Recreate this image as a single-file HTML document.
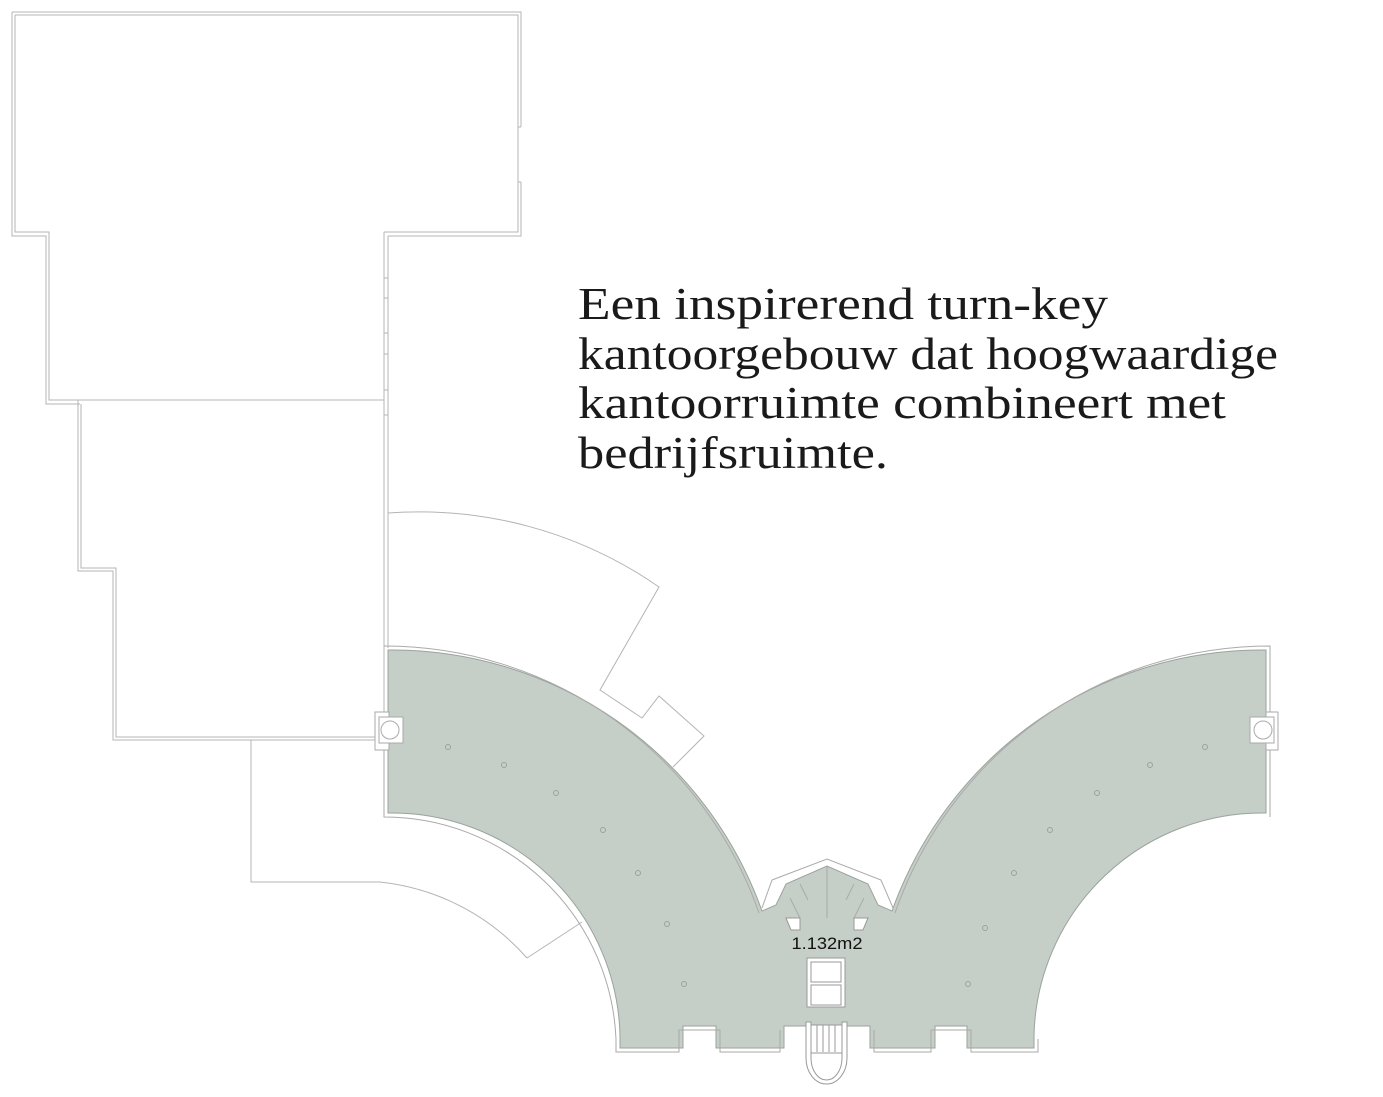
<!DOCTYPE html>
<html><head><meta charset="utf-8"><style>
html,body{margin:0;padding:0;background:#fff;}
svg{display:block;}
</style></head><body>
<svg width="1383" height="1097" viewBox="0 0 1383 1097" xmlns="http://www.w3.org/2000/svg">
<g fill="none" stroke="#b4b4b4" stroke-width="1">
  <path d="M12,12 H521 V127 M521,182 V236 H388 M12,12 V236 H46 V404 H80"/>
  <path d="M15,15 H518 V232 H384 M15,15 V232 H49 V400 H384"/>
  <path d="M518,127 H521 M518,182 H521" />
  <path d="M384,232 V740 M388,236 V648"/>
  <path d="M384,278 H388 M384,298 H388 M384,333 H388 M384,354 H388 M384,390 H388 M384,415 H388"/>
  <path d="M78,400 V571 H113 V740 H384 M81,404 V568 H116 V737 H384"/>
  <path d="M251,740 V882 H380 A228,228 0 0 1 527,958 L582,922"/>
  <path d="M388,513 A420,420 0 0 1 659,587 L600,690 L642,718 L659,696 L704,736 L673,767"/>
</g>
<path fill="#c5cfc7" stroke="#9aa39c" stroke-width="1"
 d="M388,650 A393,393 0 0 1 762,911 L776,905 L786,884 L827,866 L868,884 L878,905 L892,911
    A393,393 0 0 1 1266,650 L1266,813 A228,228 0 0 0 1034,1035 L1034,1048 L967,1048 L967,1026 L935,1026 L935,1048 L870,1048 L870,1026 L784,1026 L784,1048 L716,1048 L716,1026 L683,1026 L683,1048 L620,1048 L620,1035 A228,228 0 0 0 388,813 Z"/>
<g fill="none" stroke="#aaa" stroke-width="1">
  <path d="M384,646 A397,397 0 0 1 759,913"/>
  <path d="M895,913 A397,397 0 0 1 1270,646 V817"/>
  <path d="M384,740 V817 A232,232 0 0 1 616,1039 V1052 H679 V1030 H720 V1052 H780 V1030"/>
  <path d="M1038,1039 V1052 H971 V1030 H931 V1052 H874 V1030"/>
  <path d="M772,880 L827,859 L881,880 L893,908"/>
  <path d="M772,880 L762,908"/>
  <path d="M827,866 V918 M800,884 L808,900 M854,884 L846,900 M790,898 L800,918 M864,898 L854,918"/>
</g>
<g fill="#fff" stroke="#999" stroke-width="1">
  <path d="M786,918 H800 V930 H791 Z M854,918 H868 L863,930 H854 Z"/>
  <rect x="807" y="958" width="38" height="49"/>
  <rect x="811" y="962" width="30" height="20"/>
  <rect x="811" y="985" width="30" height="20"/>
  <path d="M806,1022 V1058 A20.5,26 0 0 0 847,1058 V1022 H842 V1058 A15.5,22 0 0 1 811,1058 V1022 Z"/>
  <rect x="811" y="1025" width="31" height="28"/>
</g>
<g stroke="#999" stroke-width="1">
  <path d="M817,1025 V1052 M823,1025 V1052 M829,1025 V1052 M835,1025 V1052"/>
</g>
<g fill="#fff" stroke="#aaa" stroke-width="1">
  <rect x="375" y="712" width="14" height="38"/>
  <rect x="379" y="717" width="24" height="26"/>
  <circle cx="390" cy="730" r="9"/>
  <rect x="1266" y="712" width="12" height="38"/>
  <rect x="1250" y="717" width="24" height="26"/>
  <circle cx="1263" cy="730" r="9"/>
</g>
<g fill="none" stroke="#9aa39c" stroke-width="1">
  <circle cx="448" cy="747" r="2.5"/><circle cx="504" cy="765" r="2.5"/><circle cx="556" cy="793" r="2.5"/>
  <circle cx="603" cy="830" r="2.5"/><circle cx="638" cy="873" r="2.5"/><circle cx="667" cy="924" r="2.5"/>
  <circle cx="684" cy="984" r="2.5"/>
  <circle cx="1205" cy="747" r="2.5"/><circle cx="1150" cy="765" r="2.5"/><circle cx="1097" cy="793" r="2.5"/>
  <circle cx="1050" cy="830" r="2.5"/><circle cx="1014" cy="873" r="2.5"/><circle cx="985" cy="928" r="2.5"/>
  <circle cx="968" cy="984" r="2.5"/>
</g>
<text x="827" y="949" text-anchor="middle" font-family="Liberation Sans, sans-serif" font-size="17" fill="#111" textLength="71" lengthAdjust="spacingAndGlyphs">1.132m2</text>
<g font-family="Liberation Serif, serif" font-size="45" fill="#1a1a1a">
  <text x="578" y="319" textLength="530" lengthAdjust="spacingAndGlyphs">Een inspirerend turn-key</text>
  <text x="578" y="369" textLength="700" lengthAdjust="spacingAndGlyphs">kantoorgebouw dat hoogwaardige</text>
  <text x="578" y="418" textLength="648" lengthAdjust="spacingAndGlyphs">kantoorruimte combineert met</text>
  <text x="578" y="468" textLength="310" lengthAdjust="spacingAndGlyphs">bedrijfsruimte.</text>
</g>
</svg>
</body></html>
